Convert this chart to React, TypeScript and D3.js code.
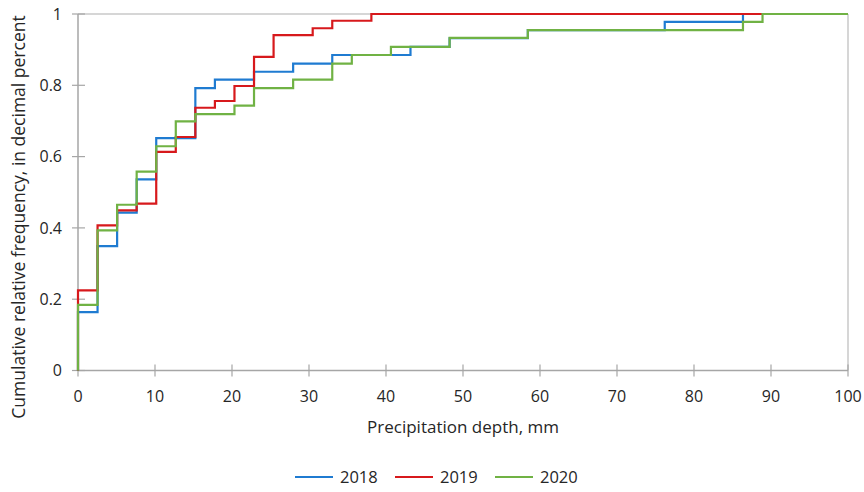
import React from "react";
import * as d3 from "d3";

// step positions (mm) and cumulative frequencies
const depth2018 = [0, 2.54, 5.08, 7.62, 10.16, 15.24, 17.78, 22.86, 27.94, 33.02, 43.18, 48.26, 58.42, 76.2, 86.36, 100];
const freq2018 = [0.164, 0.349, 0.443, 0.536, 0.652, 0.792, 0.816, 0.838, 0.861, 0.885, 0.908, 0.932, 0.955, 0.978, 1, 1];

const depth2019 = [0, 2.54, 5.08, 7.62, 10.16, 12.7, 15.24, 17.78, 20.32, 22.86, 25.4, 30.48, 33.02, 38.1, 100];
const freq2019 = [0.225, 0.407, 0.449, 0.468, 0.613, 0.655, 0.737, 0.756, 0.798, 0.88, 0.941, 0.96, 0.981, 1, 1];

const depth2020 = [0, 2.54, 5.08, 7.62, 10.16, 12.7, 15.24, 20.32, 22.86, 27.94, 33.02, 35.56, 40.64, 48.26, 58.42, 86.36, 88.9, 100];
const freq2020 = [0.184, 0.393, 0.465, 0.558, 0.629, 0.699, 0.719, 0.743, 0.792, 0.816, 0.861, 0.885, 0.908, 0.933, 0.955, 0.978, 1, 1];

const years = ["2018", "2019", "2020"];
const colors = ["#1f7bd1", "#d7191c", "#70b244"];
const xTicks = [0, 10, 20, 30, 40, 50, 60, 70, 80, 90, 100];
const yTicks = [0, 0.2, 0.4, 0.6, 0.8, 1];

const W = 864, H = 492;
const left = 78, right = 848, top = 14, bottom = 370.5;
const font = "'Open Sans', sans-serif";

export default function App() {
  const x = d3.scaleLinear().domain([0, 100]).range([left, right]);
  const y = d3.scaleLinear().domain([0, 1]).range([bottom, top]);

  const series = [
    { depth: depth2018, freq: freq2018 },
    { depth: depth2019, freq: freq2019 },
    { depth: depth2020, freq: freq2020 },
  ];

  const stepLine = d3.line<[number, number]>()
    .x(d => x(d[0]))
    .y(d => y(d[1]))
    .curve(d3.curveStepAfter);

  const axisColor = "#a6a6a6";

  return (
    <svg width={W} height={H} style={{ position: "absolute", left: 0, top: 0, background: "#fff" }}>
      {/* frame */}
      <line x1={left} x2={right} y1={top} y2={top} stroke="#c8c8c8" strokeWidth={1.5} />
      <line x1={right} x2={right} y1={top} y2={bottom} stroke="#c8c8c8" strokeWidth={1.5} />
      <line x1={left} x2={left} y1={top} y2={bottom} stroke={axisColor} strokeWidth={1.5} />
      <line x1={left} x2={right} y1={bottom} y2={bottom} stroke={axisColor} strokeWidth={1.5} />

      {yTicks.map(t => (
        <g key={"y" + t}>
          <line x1={left - 6} x2={left + 7} y1={y(t)} y2={y(t)} stroke={axisColor} strokeWidth={1.2} />
          <text x={left - 16} y={y(t)} dy="0.35em" textAnchor="end" fontFamily={font} fontSize={16} fill="#262626">
            {String(t)}
          </text>
        </g>
      ))}
      {xTicks.map(t => (
        <g key={"x" + t}>
          <line x1={x(t)} x2={x(t)} y1={bottom - 6} y2={bottom + 6} stroke={axisColor} strokeWidth={1.2} />
          <text x={x(t)} y={bottom + 31} textAnchor="middle" fontFamily={font} fontSize={16} fill="#262626">
            {t}
          </text>
        </g>
      ))}

      {series.map((s, i) => {
        const pts: [number, number][] = [[0, 0], ...s.depth.map((d, j) => [d, s.freq[j]] as [number, number])];
        return (
          <path key={years[i]} d={stepLine(pts) || ""} fill="none" stroke={colors[i]} strokeWidth={2.2} />
        );
      })}

      <text x={463} y={433} textAnchor="middle" fontFamily={font} fontSize={17} fill="#262626">
        Precipitation depth, mm
      </text>
      <text
        transform={`translate(25, 217) rotate(-90)`}
        textAnchor="middle"
        fontFamily={font}
        fontSize={17.5}
        fill="#262626"
      >
        Cumulative relative frequency, in decimal percent
      </text>

      {years.map((yr, i) => (
        <g key={"lg" + yr} transform={`translate(${295 + i * 100}, 477)`}>
          <line x1={0} x2={38} y1={0} y2={0} stroke={colors[i]} strokeWidth={2.2} />
          <text x={45} y={0} dy="0.35em" fontFamily={font} fontSize={16.5} fill="#262626">
            {yr}
          </text>
        </g>
      ))}
    </svg>
  );
}
